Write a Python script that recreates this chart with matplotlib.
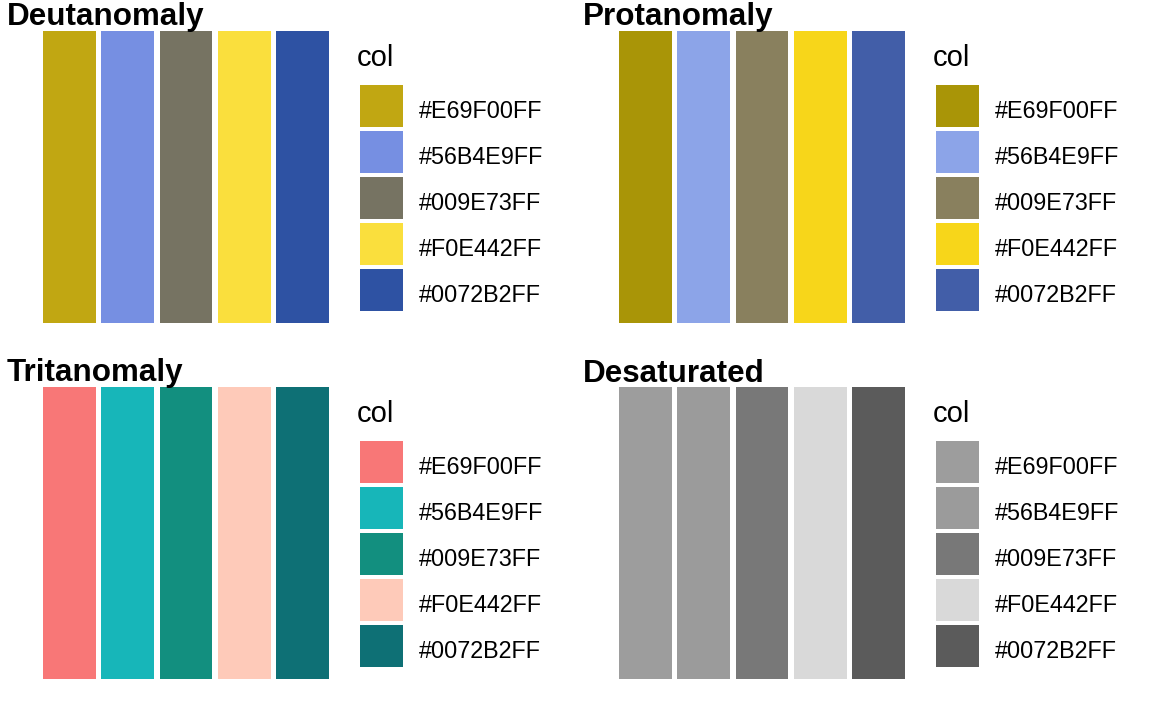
import matplotlib
matplotlib.use("Agg")
import matplotlib.pyplot as plt
from matplotlib.patches import Rectangle

plt.rcParams['font.family'] = ['Liberation Sans', 'DejaVu Sans']

labels = ["#E69F00FF", "#56B4E9FF", "#009E73FF", "#F0E442FF", "#0072B2FF"]
panel_titles = ["Deutanomaly", "Protanomaly", "Tritanomaly", "Desaturated"]
deutan = ["#C1A712", "#768FE2", "#767362", "#FADF3D", "#2E52A3"]
protan = ["#A99507", "#8CA4E8", "#89805E", "#F7D61A", "#425EA8"]
tritan = ["#F87777", "#17B6B9", "#128F7F", "#FECAB9", "#0E7075"]
desat = ["#9D9D9D", "#9B9B9B", "#787878", "#D9D9D9", "#5B5B5B"]
palettes = [deutan, protan, tritan, desat]

W, H = 1152, 711
fig = plt.figure(figsize=(W / 100, H / 100), dpi=100)

def fx(px):
    return px / W

def fy(py):
    return 1 - py / H

offsets = [(0, 0), (576, 0), (0, 356), (576, 356)]
for title, pal, (ox, oy) in zip(panel_titles, palettes, offsets):
    # bar panel
    left, right, top, bottom = 43 + ox, 329 + ox, 31 + oy, 323 + oy
    ax = fig.add_axes([fx(left), fy(bottom), fx(right - left), (bottom - top) / H])
    xs = list(range(1, len(labels) + 1))
    ax.bar(xs, [1] * len(xs), width=0.9, color=pal)
    ax.set_xlim(0.55, len(labels) + 0.45)
    ax.set_ylim(0, 1)
    ax.axis("off")
    # title
    fig.text(fx(7 + ox), fy(25.5 + oy), title, fontsize=22.6, fontweight="bold",
             ha="left", va="baseline")
    # legend
    fig.text(fx(357 + ox), fy(66.5 + oy), "col", fontsize=21, ha="left", va="baseline")
    for i, (lab, col) in enumerate(zip(labels, pal)):
        kt = 85 + oy + 46 * i
        fig.add_artist(Rectangle((fx(360 + ox), fy(kt + 42)), fx(43), 42 / H,
                                 facecolor=col, edgecolor="none",
                                 transform=fig.transFigure))
        fig.text(fx(418.5 + ox), fy(kt + 33), lab, fontsize=16.8, ha="left",
                 va="baseline")

fig.savefig("out.png", dpi=100)
